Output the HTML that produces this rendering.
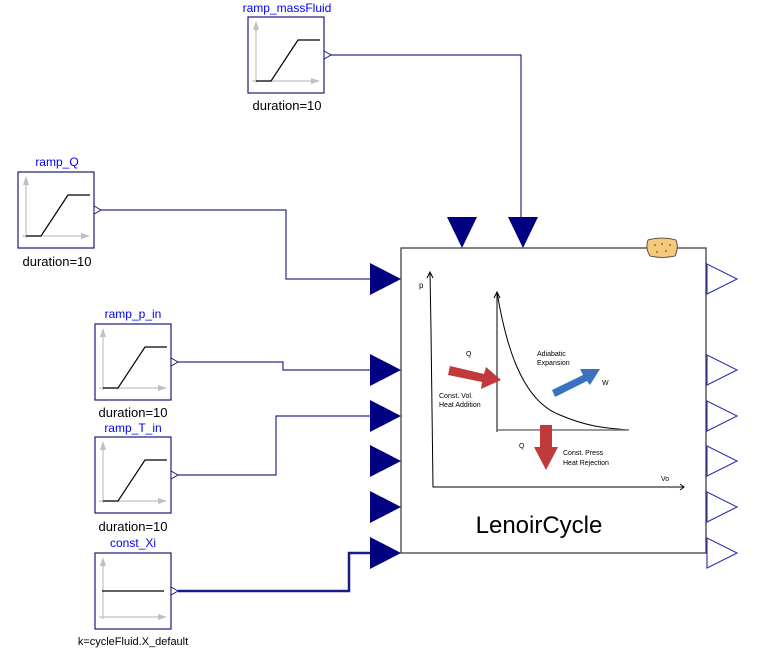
<!DOCTYPE html>
<html><head><style>
html,body{margin:0;padding:0;background:#fff;}
svg{display:block;font-family:"Liberation Sans",sans-serif;}
</style></head><body>
<svg width="758" height="668" viewBox="0 0 758 668" xmlns="http://www.w3.org/2000/svg">
<defs>
<g id="ramp">
<rect x="0" y="0" width="76" height="76" fill="#fff" stroke="#1a1a7a" stroke-width="1.2"/>
<line x1="8" y1="66" x2="8" y2="8" stroke="#c0c0c0" stroke-width="1.2"/>
<polygon points="8,4 5,13 11,13" fill="#c0c0c0"/>
<line x1="4" y1="64" x2="68" y2="64" stroke="#c0c0c0" stroke-width="1.2"/>
<polygon points="72,64 63,61 63,67" fill="#c0c0c0"/>
<polyline points="8,64 23,64 50,23 72,23" fill="none" stroke="#000" stroke-width="1.2"/>
<polygon points="76,34 83,38 76,42" fill="#fff" stroke="#1a1a7a"/>
</g>
</defs>

<!-- connections -->
<g fill="none" stroke="#2a2a8a" stroke-width="1.2">
<polyline points="330,55 521,55 521,218"/>
<polyline points="101,210 286,210 286,279 371,279"/>
<polyline points="178,362 283,362 283,370 371,370"/>
<polyline points="178,475 276,475 276,416 371,416"/>
</g>
<polyline points="178,591 349,591 349,553 371,553" fill="none" stroke="#1a1a8a" stroke-width="2.5"/>

<!-- blocks -->
<use href="#ramp" x="248" y="17"/>
<text x="287" y="12" font-size="12" fill="#0000ff" text-anchor="middle">ramp_massFluid</text>
<text x="287" y="110" font-size="13" text-anchor="middle">duration=10</text>

<use href="#ramp" x="18" y="172"/>
<text x="57" y="166" font-size="12" fill="#0000ff" text-anchor="middle">ramp_Q</text>
<text x="57" y="266" font-size="13" text-anchor="middle">duration=10</text>

<use href="#ramp" x="95" y="324"/>
<text x="133" y="318" font-size="12" fill="#0000ff" text-anchor="middle">ramp_p_in</text>
<text x="133" y="417" font-size="13" text-anchor="middle">duration=10</text>

<use href="#ramp" x="95" y="437"/>
<text x="133" y="432" font-size="12" fill="#0000ff" text-anchor="middle">ramp_T_in</text>
<text x="133" y="531" font-size="13" text-anchor="middle">duration=10</text>

<g transform="translate(95,553)">
<rect x="0" y="0" width="76" height="76" fill="#fff" stroke="#1a1a7a" stroke-width="1.2"/>
<line x1="8" y1="66" x2="8" y2="8" stroke="#c0c0c0" stroke-width="1.2"/>
<polygon points="8,4 5,13 11,13" fill="#c0c0c0"/>
<line x1="4" y1="64" x2="68" y2="64" stroke="#c0c0c0" stroke-width="1.2"/>
<polygon points="72,64 63,61 63,67" fill="#c0c0c0"/>
<line x1="7" y1="38" x2="69" y2="38" stroke="#000" stroke-width="1.2"/>
<polygon points="76,34 83,38 76,42" fill="#fff" stroke="#1a1a7a"/>
</g>
<text x="133" y="547" font-size="12" fill="#0000ff" text-anchor="middle">const_Xi</text>
<text x="133" y="645" font-size="11" text-anchor="middle">k=cycleFluid.X_default</text>

<!-- main block -->
<rect x="401" y="248" width="305" height="305" fill="#fff" stroke="#333" stroke-width="1.2"/>
<!-- top inputs -->
<polygon points="447,217 477,217 462,248" fill="#000080"/>
<polygon points="508,217 538,217 523,248" fill="#000080"/>
<!-- left inputs -->
<g fill="#000080">
<polygon points="370,263 401,279 370,295"/>
<polygon points="370,354 401,370 370,386"/>
<polygon points="370,400 401,416 370,432"/>
<polygon points="370,445 401,461 370,477"/>
<polygon points="370,491 401,507 370,523"/>
<polygon points="370,537 401,553 370,569"/>
</g>
<!-- right outputs -->
<g fill="#fff" stroke="#3a3ab0" stroke-width="1.2">
<polygon points="707,264 737,279 707,294"/>
<polygon points="707,355 737,370 707,385"/>
<polygon points="707,401 737,416 707,431"/>
<polygon points="707,446 737,461 707,476"/>
<polygon points="707,492 737,507 707,522"/>
<polygon points="707,538 737,553 707,568"/>
</g>
<!-- cheese icon -->
<path d="M648,240 Q662,236 676,240 Q679,248 675,256 Q662,259 650,256 Q645,248 648,240Z" fill="#f5c87a" stroke="#333" stroke-width="0.8"/>
<g fill="#333"><circle cx="655" cy="245" r="0.8"/><circle cx="662" cy="244" r="0.8"/><circle cx="670" cy="245" r="0.8"/><circle cx="657" cy="252" r="0.8"/><circle cx="666" cy="251" r="0.8"/></g>

<!-- graph -->
<g stroke="#000" fill="none" stroke-width="1">
<path d="M430,272 L431,330 L433,487 L684,487"/>
<path d="M427,278 L430,272 L433,278"/>
<path d="M680,484 L684,487 L680,490"/>
<path d="M497,432 L497,292"/>
<path d="M494,298 L497,292 L500,298"/>
<path d="M497,292 C505,340 520,400 560,415 C590,428 610,428 629,430"/>
<path d="M497,430 L629,430" stroke="#777" stroke-width="1.5"/>
</g>
<text x="419" y="288" font-size="8">p</text>
<text x="466" y="356" font-size="7">Q</text>
<text x="439" y="398" font-size="7">Const. Vol.</text>
<text x="439" y="407" font-size="7">Heat Addition</text>
<text x="537" y="356" font-size="7">Adiabatic</text>
<text x="537" y="365" font-size="7">Expansion</text>
<text x="602" y="385" font-size="7">W</text>
<text x="519" y="448" font-size="7">Q</text>
<text x="563" y="455" font-size="7">Const. Press</text>
<text x="563" y="465" font-size="7">Heat Rejection</text>
<text x="661" y="481" font-size="7">Vo</text>
<polygon points="450,366 484,374 486,367 501,380 481,389 482,382 448,375" fill="#c0393b"/>
<polygon points="552,390 583,375 580,369 600,369 590,385 587,381 555,397" fill="#3a72c0"/>
<polygon points="540,425 552,425 552,447 558,447 546,470 534,447 540,447" fill="#c0393b"/>

<text x="539" y="533" font-size="24" text-anchor="middle">LenoirCycle</text>
</svg>
</body></html>
